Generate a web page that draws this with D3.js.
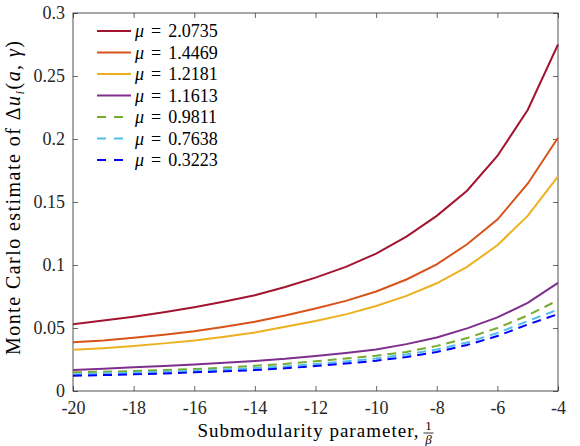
<!DOCTYPE html>
<html>
<body style="margin:0;background:#fff">
<script src="https://d3js.org/d3.v7.min.js"></script>
<style>
body { font-family: "Liberation Serif", serif; }
.axis text { font: 18px "Liberation Serif", serif; fill: #262626; }
.axis line { stroke: #262626; stroke-width: 0.7; }
.legend text { font: 18px "Liberation Serif", serif; fill: #000; }
</style>
<script>

// x values: submodularity parameter 1/beta
var xVals = [-20, -19, -18, -17, -16, -15, -14, -13, -12, -11, -10, -9, -8, -7, -6, -5, -4];

var mu2073 = [0.053, 0.056, 0.059, 0.0625, 0.0665, 0.071, 0.076, 0.0825, 0.090, 0.0985, 0.109, 0.1225, 0.139, 0.159, 0.1865, 0.223, 0.275];
var mu1446 = [0.0387, 0.040, 0.0422, 0.0447, 0.0475, 0.051, 0.055, 0.060, 0.0655, 0.0715, 0.079, 0.0885, 0.1005, 0.1165, 0.136, 0.1645, 0.201];
var mu1218 = [0.0327, 0.034, 0.0357, 0.0378, 0.040, 0.043, 0.0465, 0.051, 0.0555, 0.0608, 0.0675, 0.0755, 0.0855, 0.0985, 0.1157, 0.139, 0.1704];
var mu1161 = [0.0166, 0.0177, 0.0188, 0.0199, 0.0211, 0.0224, 0.0238, 0.0255, 0.0278, 0.0302, 0.033, 0.0372, 0.0425, 0.0497, 0.0584, 0.070, 0.0858];
var mu0981 = [0.0148, 0.0153, 0.0158, 0.0166, 0.0174, 0.0186, 0.020, 0.0215, 0.0236, 0.0258, 0.028, 0.031, 0.0358, 0.042, 0.050, 0.060, 0.072];
var mu0763 = [0.0132, 0.0138, 0.0145, 0.0152, 0.0161, 0.017, 0.0182, 0.0195, 0.0215, 0.0235, 0.0258, 0.029, 0.033, 0.0385, 0.046, 0.0555, 0.0647];
var mu0322 = [0.0121, 0.0126, 0.0132, 0.0139, 0.0148, 0.0156, 0.0166, 0.018, 0.0198, 0.0218, 0.024, 0.027, 0.031, 0.0365, 0.0436, 0.0528, 0.061];

var muLabels = ["2.0735", "1.4469", "1.2181", "1.1613", "0.9811", "0.7638", "0.3223"];
var colors = ["#A2142F", "#D95319", "#EDB120", "#7E2F8E", "#77AC30", "#4DBEEE", "#0000FF"];
var dashed = [false, false, false, false, true, true, true];

var xTicks = [-20, -18, -16, -14, -12, -10, -8, -6, -4];
var yTicks = [0, 0.05, 0.1, 0.15, 0.2, 0.25, 0.3];

var series = [mu2073, mu1446, mu1218, mu1161, mu0981, mu0763, mu0322];

var margin = {top: 13, right: 22, bottom: 55, left: 73};
var width = 580 - margin.left - margin.right,
    height = 446 - margin.top - margin.bottom;

var svg = d3.select("body").append("svg")
    .attr("width", 580)
    .attr("height", 446)
  .append("g")
    .attr("transform", "translate(" + margin.left + "," + margin.top + ")");

var xScale = d3.scaleLinear().domain([-20, -4]).range([0, width]);
var yScale = d3.scaleLinear().domain([0, 0.3]).range([height, 0]);

// axes, ticks pointing inward, box all round
svg.append("g")
    .attr("class", "x axis")
    .attr("transform", "translate(0," + height + ")")
    .call(d3.axisBottom(xScale).tickValues(xTicks).tickSizeInner(-5).tickSizeOuter(0).tickPadding(10)
        .tickFormat(function(d) { return "-" + Math.abs(d); }));

svg.append("g")
    .attr("class", "x axis")
    .call(d3.axisTop(xScale).tickValues(xTicks).tickSizeInner(-5).tickSizeOuter(0).tickFormat(""));

svg.append("g")
    .attr("class", "y axis")
    .call(d3.axisLeft(yScale).tickValues(yTicks).tickSizeInner(-5).tickSizeOuter(0).tickPadding(8)
        .tickFormat(function(d) { return d3.format("~g")(d); }));

svg.append("g")
    .attr("class", "y axis")
    .attr("transform", "translate(" + width + ",0)")
    .call(d3.axisRight(yScale).tickValues(yTicks).tickSizeInner(-5).tickSizeOuter(0).tickFormat(""));

svg.selectAll(".axis .domain").remove();

svg.append("rect")
    .attr("width", width)
    .attr("height", height)
    .attr("fill", "none")
    .attr("stroke", "#262626")
    .attr("stroke-width", 0.8);

var line = d3.line()
    .x(function(d, i) { return xScale(xVals[i]); })
    .y(function(d) { return yScale(d); });

svg.selectAll(".series")
    .data(series)
  .enter().append("path")
    .attr("class", "series")
    .attr("d", line)
    .attr("fill", "none")
    .attr("stroke", function(d, i) { return colors[i]; })
    .attr("stroke-width", 2)
    .attr("stroke-dasharray", function(d, i) { return dashed[i] ? "9,6" : null; });

// legend
var legend = svg.selectAll(".legend")
    .data(muLabels)
  .enter().append("g")
    .attr("class", "legend")
    .attr("transform", function(d, i) { return "translate(24," + (18 + i * 21.5) + ")"; });

legend.append("line")
    .attr("x1", 0).attr("x2", 34)
    .attr("stroke", function(d, i) { return colors[i]; })
    .attr("stroke-width", 2)
    .attr("stroke-dasharray", function(d, i) { return dashed[i] ? "9,8" : null; });

var lt = legend.append("text")
    .attr("x", 38)
    .attr("dy", "0.35em");
lt.append("tspan").style("font-style", "italic").text("μ");
lt.append("tspan").attr("dx", 7).text("=");
lt.append("tspan").attr("dx", 7).text(function(d) { return d; });

// x label
var xlx = width / 2 - 8;
svg.append("text")
    .attr("x", xlx - 110)
    .attr("y", height + 46)
    .attr("textLength", 221)
    .attr("lengthAdjust", "spacing")
    .style("font", "19px 'Liberation Serif', serif")
    .text("Submodularity parameter,");

var fx = xlx + 121;
svg.append("text")
    .attr("x", fx).attr("y", height + 39)
    .attr("text-anchor", "middle")
    .style("font", "13px 'Liberation Serif', serif")
    .text("1");
svg.append("line")
    .attr("x1", fx - 5).attr("x2", fx + 5)
    .attr("y1", height + 42).attr("y2", height + 42)
    .attr("stroke", "#000").attr("stroke-width", 0.8);
svg.append("text")
    .attr("x", fx).attr("y", height + 53)
    .attr("text-anchor", "middle")
    .style("font", "italic 13px 'Liberation Serif', serif")
    .text("β");

// y label
var yl = svg.append("text")
    .attr("transform", "translate(-53," + (height / 2 - 4) + ") rotate(-90)")
    .attr("x", -157)
    .attr("textLength", 314)
    .attr("lengthAdjust", "spacing")
    .style("font", "20px 'Liberation Serif', serif");
yl.append("tspan").text("Monte Carlo estimate of Δ");
yl.append("tspan").style("font-style", "italic").text("u");
yl.append("tspan").style("font-style", "italic").style("font-size", "13px").attr("dy", 4).text("i");
yl.append("tspan").attr("dy", -4).text("(");
yl.append("tspan").style("font-style", "italic").text("a");
yl.append("tspan").text(", ");
yl.append("tspan").style("font-style", "italic").text("γ");
yl.append("tspan").text(")");

</script>
</body>
</html>
